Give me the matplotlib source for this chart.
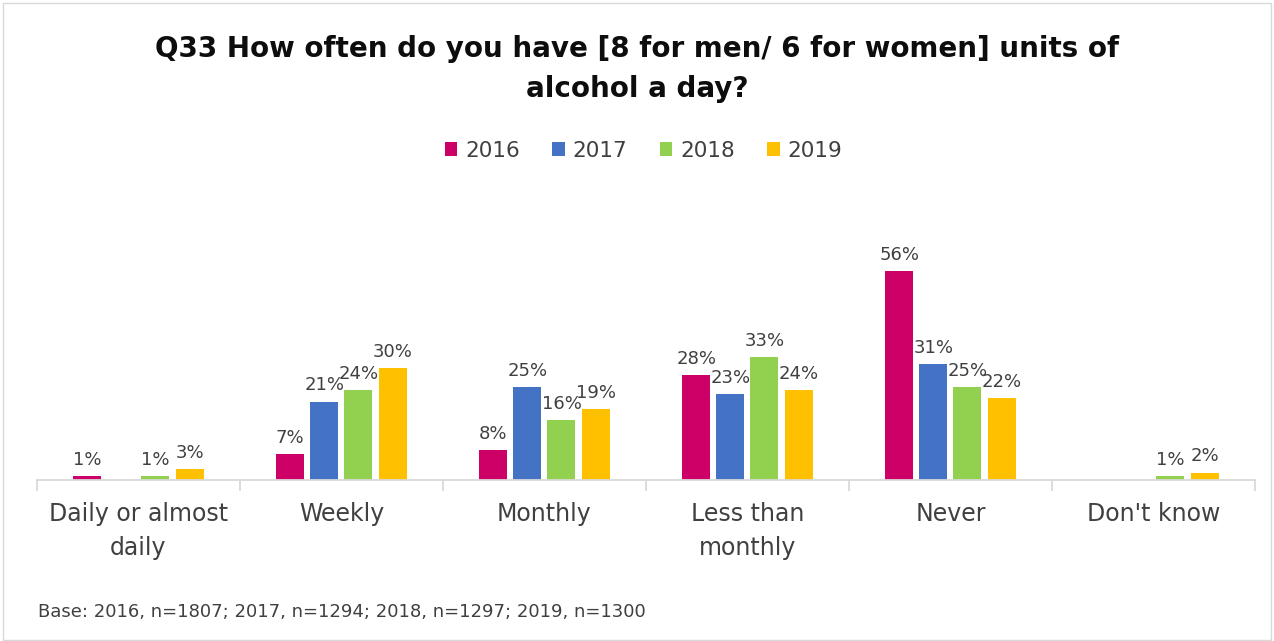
import numpy as np
import matplotlib.pyplot as plt
from matplotlib.patches import Rectangle

categories = ["Daily or almost\ndaily", "Weekly", "Monthly", "Less than\nmonthly", "Never", "Don't know"]
years = ["2016", "2017", "2018", "2019"]
v2016 = [1, 7, 8, 28, 56, np.nan]
v2017 = [np.nan, 21, 25, 23, 31, np.nan]
v2018 = [1, 24, 16, 33, 25, 1]
v2019 = [3, 30, 19, 24, 22, 2]
colors = ["#CC0066", "#4472C4", "#92D050", "#FFC000"]

plt.rcParams['font.family'] = ['DejaVu Sans']

fig = plt.figure(figsize=(12.74, 6.41), dpi=100)
ax = fig.add_axes([0.029, 0.2512, 0.956, 0.4368])

x = np.arange(len(categories))
width = 0.138
slot = 0.168
for i, (year, vals, c) in enumerate(zip(years, [v2016, v2017, v2018, v2019], colors)):
    pos = x + (i - 1.5) * slot
    vals = np.array(vals, dtype=float)
    ok = ~np.isnan(vals)
    ax.bar(pos[ok], vals[ok], width, color=c, label=year)
    for px, v in zip(pos[ok], vals[ok]):
        ax.text(px, v + 1.9, f"{v:.0f}%", ha='center', va='bottom',
                fontsize=13, color='#404040')

ax.set_xlim(-0.5, len(categories) - 0.5)
ax.set_ylim(0, 75)
ax.set_yticks([])
for s in ['top', 'right', 'left']:
    ax.spines[s].set_visible(False)
ax.spines['bottom'].set_color('#D9D9D9')
ax.spines['bottom'].set_linewidth(1.3)

# tick marks sit between the groups
ax.set_xticks(np.arange(-0.5, len(categories)), minor=False)
ax.set_xticklabels([])
ax.tick_params(axis='x', length=8, color='#D9D9D9', width=1.3)
for xi, lab in zip(x, categories):
    ax.text(xi, -6.0, lab, ha='center', va='top', fontsize=17,
            color='#404040', linespacing=1.5)

fig.text(0.5, 0.893, "Q33 How often do you have [8 for men/ 6 for women] units of\nalcohol a day?",
         ha='center', va='center', fontsize=20, fontweight='bold', color='#0D0D0D',
         linespacing=1.55)

ax.legend(loc='center', bbox_to_anchor=(0.505, 0.765), bbox_transform=fig.transFigure,
          ncol=4, frameon=False, fontsize=15.5, handlelength=0.6, handleheight=0.6,
          handletextpad=0.35, columnspacing=1.5, labelcolor='#404040')

fig.text(0.03, 0.045, "Base: 2016, n=1807; 2017, n=1294; 2018, n=1297; 2019, n=1300",
         ha='left', va='center', fontsize=13, color='#404040')

fig.patches.append(Rectangle((0.002, 0.002), 0.996, 0.993, transform=fig.transFigure,
                             fill=False, edgecolor='#D9D9D9', linewidth=1))

fig.savefig("out.png", dpi=100)
